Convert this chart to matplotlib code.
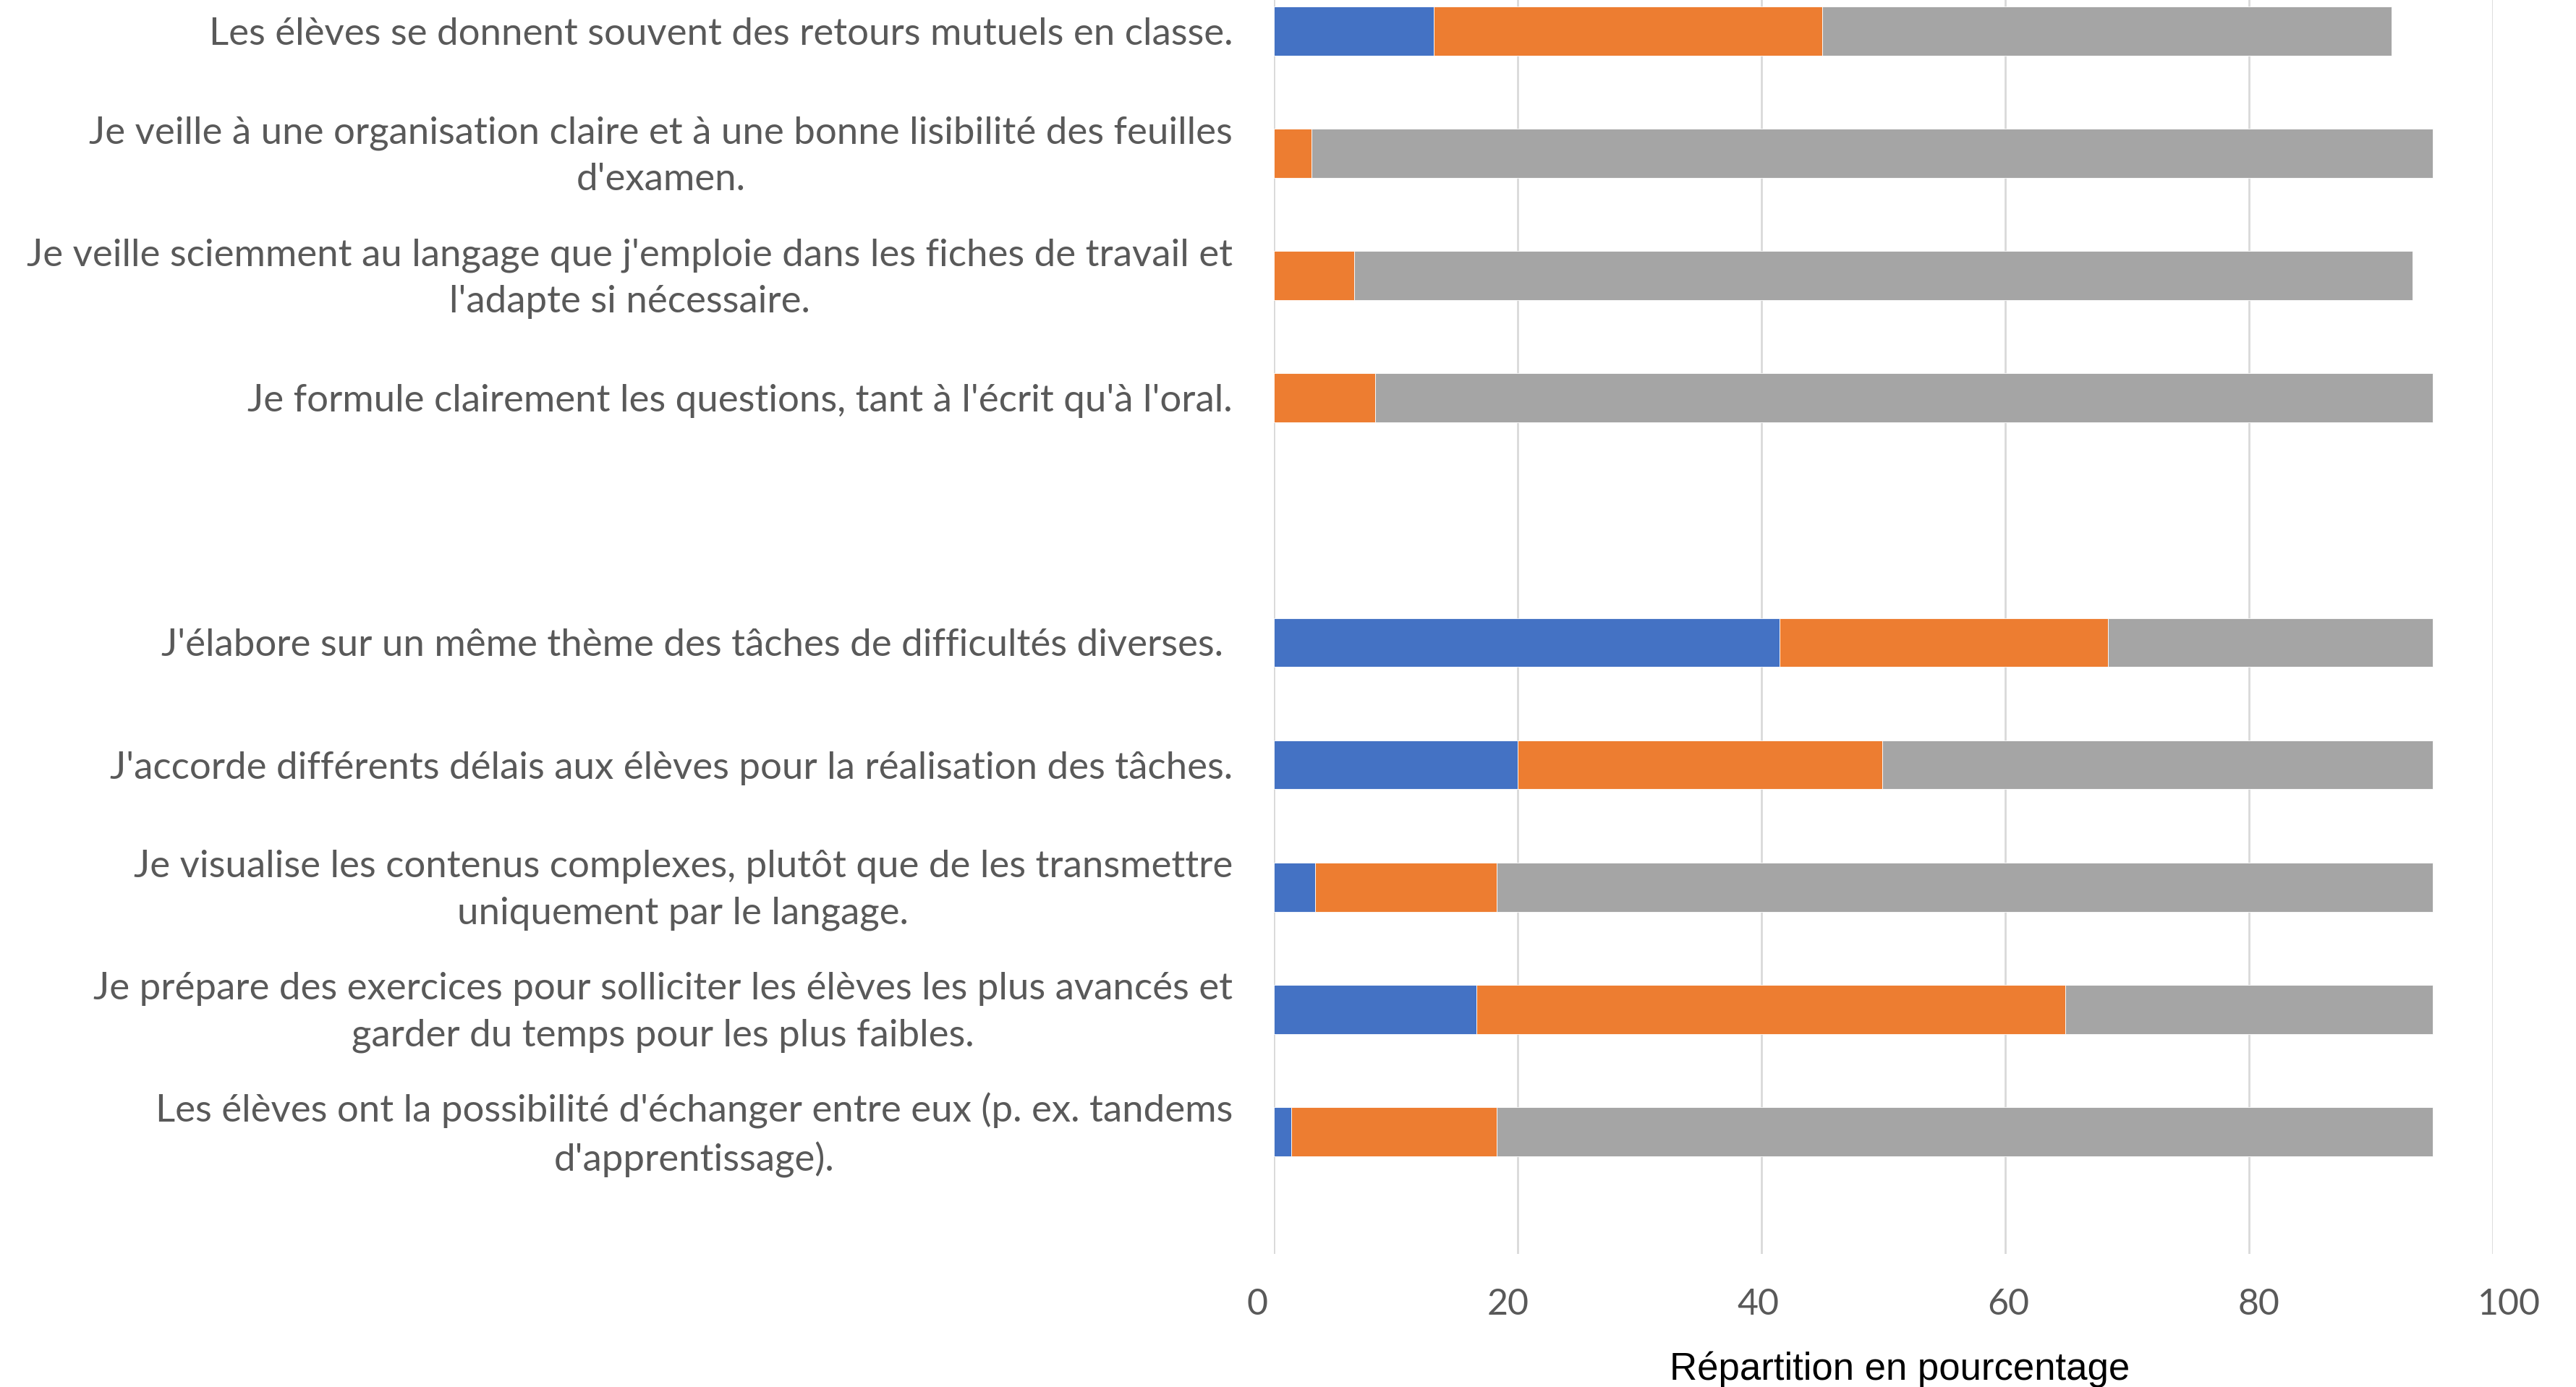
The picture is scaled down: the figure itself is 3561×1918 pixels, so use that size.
import numpy as np
import matplotlib
matplotlib.use('Agg')
import matplotlib.pyplot as plt
from matplotlib.transforms import ScaledTranslation

# categories from top to bottom ('' = empty slot between the two groups)
categories = [
    "Les élèves se donnent souvent des retours mutuels en classe.",
    "Je veille à une organisation claire et à une bonne lisibilité des feuilles\nd'examen.",
    "Je veille sciemment au langage que j'emploie dans les fiches de travail et\nl'adapte si nécessaire.",
    "Je formule clairement les questions, tant à l'écrit qu'à l'oral.",
    "",
    "J'élabore sur un même thème des tâches de difficultés diverses. ",
    "J'accorde différents délais aux élèves pour la réalisation des tâches.",
    "Je visualise les contenus complexes, plutôt que de les transmettre\nuniquement par le langage.",
    "Je prépare des exercices pour solliciter les élèves les plus avancés et\ngarder du temps pour les plus faibles.",
    "Les élèves ont la possibilité d'échanger entre eux (p. ex. tandems\nd'apprentissage).",
]

serie_bleue = [13.1, 0.0, 0.0, 0.0, np.nan, 41.5, 20.0, 3.4, 16.6, 1.4]
serie_orange = [31.9, 3.1, 6.6, 8.3, np.nan, 26.9, 29.9, 14.9, 48.3, 16.9]
serie_grise = [46.7, 92.0, 86.8, 86.8, np.nan, 26.7, 45.2, 76.8, 30.2, 76.8]

xticks = [0, 20, 40, 60, 80, 100]
xlabel = 'Répartition en pourcentage'

W, H = 3562, 1918
fig = plt.figure(figsize=(W / 100, H / 100), dpi=100)
ax = fig.add_axes([1761 / W, 1 - 1734 / H, (3446 - 1761) / W, 1734 / H])

y = np.arange(len(categories))
b = np.array(serie_bleue)
o = np.array(serie_orange)
g = np.array(serie_grise)

h = 0.4
ax.barh(y, b, height=h, color='#4472C4', edgecolor='white', linewidth=0.6, zorder=3)
ax.barh(y, o, left=b, height=h, color='#ED7D31', edgecolor='white', linewidth=0.6, zorder=3)
ax.barh(y, g, left=b + o, height=h, color='#A5A5A5', edgecolor='white', linewidth=0.6, zorder=3)

ax.set_xlim(0, 100)
ax.set_ylim(10.0, -0.254)
ax.set_xticks(xticks)
ax.set_yticks([])

# category labels: right-aligned, lines centred, two-line labels a bit higher
for yi, lab in zip(y, categories):
    dy = 6.5 if '\n' in lab else 0
    ax.annotate(lab, xy=(0, yi), xycoords=('axes fraction', 'data'),
                xytext=(-41, dy), textcoords='offset points',
                ha='right', va='center_baseline', multialignment='center',
                linespacing=1.45, fontfamily='Lato', fontsize=38, color='#595959')

ax.set_xticklabels([str(v) for v in xticks], fontfamily='Lato', fontsize=36, color='#595959')
ax.tick_params(axis='x', length=0, pad=34)

# tick labels in the original sit slightly more spread out than the gridlines
for v, t in zip(xticks, ax.get_xticklabels()):
    t.set_transform(t.get_transform() + ScaledTranslation((v - 50) * 0.0045, 0, fig.dpi_scale_trans))

ax.grid(axis='x', color='#D9D9D9', linewidth=2, zorder=0)
for s in ax.spines.values():
    s.set_visible(False)

fig.text(2626 / W, 1 - 1908 / H, xlabel, ha='center', va='baseline',
         fontfamily='Liberation Sans', fontsize=38, color='black')

fig.savefig('out.png', dpi=100)
plt.close()
